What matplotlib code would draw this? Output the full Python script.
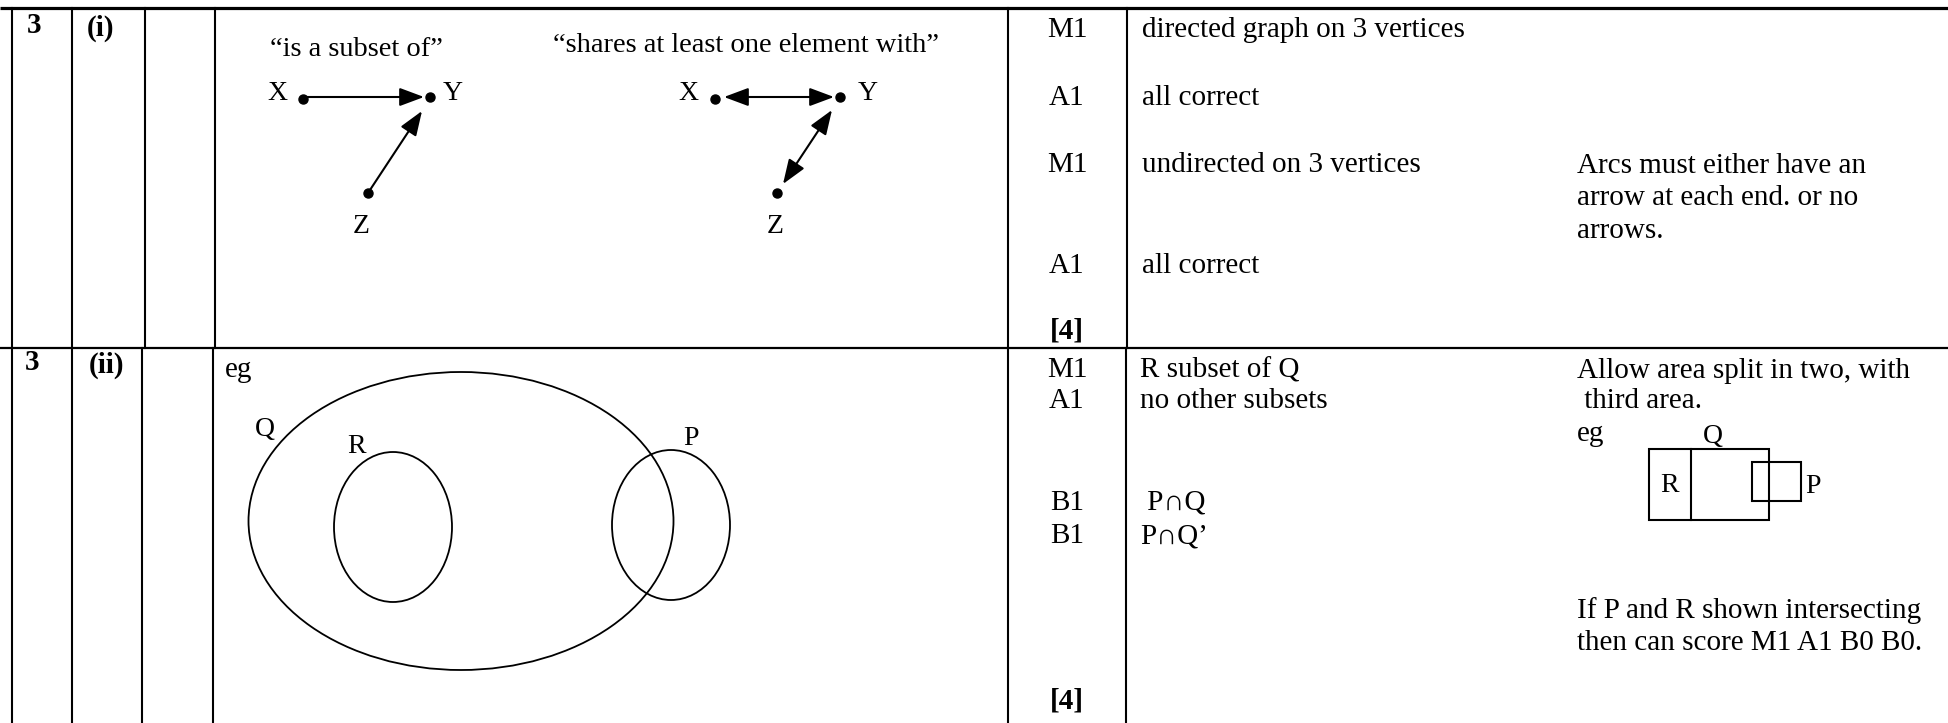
import matplotlib
matplotlib.use('Agg')
import matplotlib.pyplot as plt
from matplotlib.patches import Ellipse, Rectangle

plt.rcParams['font.family'] = ['Liberation Serif', 'DejaVu Serif']

# table content
question = ['3', '3']
parts = ['(i)', '(ii)']
marks_1 = ['M1', 'A1', 'M1', 'A1']
answers_1 = ['directed graph on 3 vertices', 'all correct',
             'undirected on 3 vertices', 'all correct']
notes_1 = ['Arcs must either have an', 'arrow at each end. or no', 'arrows.']
marks_2 = ['M1', 'A1', 'B1', 'B1']
answers_2 = ['R subset of Q', 'no other subsets', ' P\u2229Q', 'P\u2229Q\u2019']
notes_2a = ['Allow area split in two, with', ' third area.']
notes_2b = ['If P and R shown intersecting', 'then can score M1 A1 B0 B0.']
totals = ['[4]', '[4]']
graph_titles = ['\u201cis a subset of\u201d', '\u201cshares at least one element with\u201d']
vertices = ['X', 'Y', 'Z']
sets = ['Q', 'R', 'P']

# layout (pixel coords of the page)
W, H = 1948, 723
col_top = [11.7, 71.7, 145, 215, 1008, 1127]
col_bot = [11.7, 71.7, 142, 213, 1008, 1126]
y_top, y_mid = 8, 348
FS = 21

fig = plt.figure(figsize=(W / 100, H / 100), dpi=100)
ax = fig.add_axes([0, 0, 1, 1])
ax.set_xlim(0, W)
ax.set_ylim(H, 0)
ax.axis('off')

#grid lines
ax.plot([0, W], [y_top, y_top], color='black', lw=2.3, solid_capstyle='butt')
ax.plot([0, W], [y_mid, y_mid], color='black', lw=1.6, solid_capstyle='butt')
for x in col_top:
    ax.plot([x, x], [y_top, y_mid], color='black', lw=1.5)
for x in col_bot:
    ax.plot([x, x], [y_mid, H], color='black', lw=1.5)

def txt(x, y, s, ha='left', size=FS, weight='normal'):
    ax.text(x, y, s, ha=ha, va='baseline', fontsize=size, fontweight=weight)

#row (i)
txt(27, 33, question[0], weight='bold')
txt(101, 36, parts[0], ha='center', weight='bold')
for s, y in zip(marks_1, [37, 105, 172, 273]):
    txt(1067, y, s, ha='center')
for s, y in zip(answers_1, [37, 105, 172, 273]):
    txt(1142, y, s)
for s, y in zip(notes_1, [173, 205, 238]):
    txt(1577, y, s)
txt(1067, 338, totals[0], ha='center', weight='bold')

#row (ii)
txt(25, 370, question[1], weight='bold')
txt(106, 373, parts[1], ha='center', weight='bold')
txt(225, 377, 'eg')
for s, y in zip(marks_2, [377, 408, 510, 543]):
    txt(1067, y, s, ha='center')
for s, y in zip(answers_2, [377, 408, 510, 543]):
    txt(1140, y, s)
for s, x, y in zip(notes_2a, [1577, 1577], [378, 408]):
    txt(x, y, s)
for s, y in zip(notes_2b, [618, 650]):
    txt(1577, y, s)
txt(1067, 708, totals[1], ha='center', weight='bold')

#graphs
txt(356, 56, graph_titles[0], ha='center', size=20.5)
txt(746, 52, graph_titles[1], ha='center', size=20.5)

def arrow(p, q, style):
    ax.annotate('', xy=q, xytext=p,
                arrowprops=dict(arrowstyle=style + ',head_length=0.75,head_width=0.28',
                                color='black', lw=1.5, mutation_scale=20,
                                shrinkA=0, shrinkB=0))

# left graph
dots_l = [(303, 99), (430, 97), (368, 193)]
for (x, y) in dots_l:
    ax.plot(x, y, 'o', color='black', ms=6.5)
arrow((303, 97), (424, 97), '-|>')
arrow((368, 193), (422, 111), '-|>')
for s, (x, y) in zip(vertices, [(267, 100), (443, 100), (353, 233)]):
    txt(x, y, s, size=20)

# right graph
dots_r = [(715, 99), (840, 97), (777, 193)]
for (x, y) in dots_r:
    ax.plot(x, y, 'o', color='black', ms=6.5)
arrow((724, 97), (834, 97), '<|-|>')
arrow((783, 184), (832, 110), '<|-|>')
for s, (x, y) in zip(vertices, [(678, 100), (858, 100), (767, 233)]):
    txt(x, y, s, size=20)

#venn diagram
ax.add_patch(Ellipse((461, 521), 425, 298, fill=False, lw=1.3, ec='black'))
ax.add_patch(Ellipse((393, 527), 118, 150, fill=False, lw=1.3, ec='black'))
ax.add_patch(Ellipse((671, 525), 118, 150, fill=False, lw=1.3, ec='black'))
for s, (x, y) in zip(sets, [(255, 436), (347, 453), (683, 445)]):
    txt(x, y, s, size=20)

#rectangle example
txt(1577, 441, 'eg')
ax.add_patch(Rectangle((1649, 449), 120, 71, fill=False, lw=1.5, ec='black'))
ax.plot([1691, 1691], [449, 520], color='black', lw=1.5)
ax.add_patch(Rectangle((1752, 462), 49, 39, fill=False, lw=1.5, ec='black'))
txt(1703, 443, sets[0], size=20)
txt(1660, 492, sets[1], size=20)
txt(1805, 493, sets[2], size=20)

plt.savefig('out.png', dpi=100)
